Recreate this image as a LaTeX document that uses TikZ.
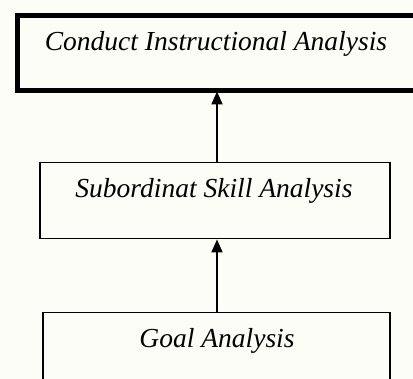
\documentclass[tikz,border=0pt]{standalone}
\usepackage{fontspec}
\setmainfont{Liberation Serif}
\usetikzlibrary{arrows.meta}
\definecolor{bg}{HTML}{FDFDF7}
\tikzset{
  box/.style={draw=black, fill=bg, rectangle, inner sep=0pt, anchor=north west},
  lbl/.style={anchor=base, inner sep=0pt, font=\fontsize{27.5}{32}\selectfont\itshape},
  conn/.style={draw=black, line width=2pt, -{Triangle[length=13pt,width=11pt]}}
}
\begin{document}
\begin{tikzpicture}[x=1pt,y=-1pt]
\useasboundingbox (0,0) rectangle (413,379);
\clip (0,0) rectangle (413,379);
\fill[bg] (0,0) rectangle (413,379);
\node[box, line width=5pt, minimum width=420pt, minimum height=75pt] (b1) at (14.5,13.5) {};
\node[box, line width=1.5pt, minimum width=350pt, minimum height=76pt] (b2) at (39,162) {};
\node[box, line width=1.5pt, minimum width=347pt, minimum height=90pt] (b3) at (42,312) {};
\node[lbl] (t1) at (216,51) {Conduct Instructional Analysis};
\node[lbl] (t2) at (214,198) {Subordinat Skill Analysis};
\node[lbl] (t3) at (217,348) {Goal Analysis};
\coordinate (a1s) at (217,312);
\coordinate (a1e) at (217,239.5);
\coordinate (a2s) at (217,162);
\coordinate (a2e) at (217,91.5);
\draw[conn] (a1s) -- (a1e);
\draw[conn] (a2s) -- (a2e);
\end{tikzpicture}
\end{document}
